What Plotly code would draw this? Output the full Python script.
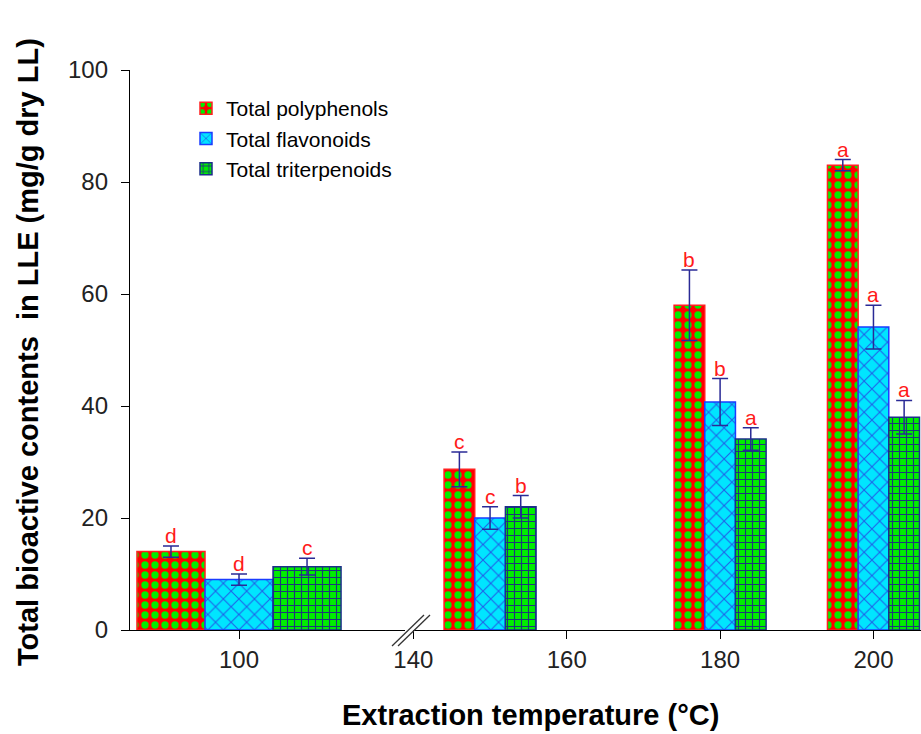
import plotly.graph_objects as go

# ---- data ----
temps = [100, 150, 180, 200]
polyphenols = [14.0, 28.7, 58.0, 83.0]
polyphenols_err = [1.0, 3.1, 6.3, 1.0]
flavonoids = [9.0, 20.0, 40.7, 54.1]
flavonoids_err = [1.0, 2.0, 4.2, 3.9]
triterpenoids = [11.3, 22.0, 34.1, 38.0]
triterpenoids_err = [1.5, 2.0, 2.0, 3.0]
poly_letters = ["d", "c", "b", "a"]
flav_letters = ["d", "c", "b", "a"]
trit_letters = ["c", "b", "a", "a"]
x_ticks_left = [100]
x_ticks_right = [140, 160, 180, 200]
y_ticks = [0, 20, 40, 60, 80, 100]

FONT = "Arial, Liberation Sans, sans-serif"
ERR = "#2a2a96"

series = [
    dict(name="Total polyphenols", y=polyphenols, err=polyphenols_err, letters=poly_letters,
         offset=-6, line="#ff2020",
         pattern=dict(shape=".", bgcolor="#ff0000", fgcolor="#00ee00", size=10, solidity=0.42)),
    dict(name="Total flavonoids", y=flavonoids, err=flavonoids_err, letters=flav_letters,
         offset=-2, line="#1a3cff",
         pattern=dict(shape="x", bgcolor="#00e5ff", fgcolor="#1f5fe8", size=11, solidity=0.18)),
    dict(name="Total triterpenoids", y=triterpenoids, err=triterpenoids_err, letters=trit_letters,
         offset=2, line="#1c2f8a",
         pattern=dict(shape="+", bgcolor="#00ee00", fgcolor="#1c3a7a", size=7, solidity=0.3)),
]

fig = go.Figure()
annotations = []
for s in series:
    for axis, idx in (("x", [0]), ("x2", [1, 2, 3])):
        xs = [temps[i] for i in idx]
        ys = [s["y"][i] for i in idx]
        es = [s["err"][i] for i in idx]
        fig.add_trace(go.Bar(
            x=xs, y=ys, xaxis=axis, yaxis="y",
            width=4, offset=s["offset"],
            name=s["name"], legendgroup=s["name"], showlegend=(axis == "x"),
            marker=dict(color=s["pattern"]["bgcolor"], line=dict(color=s["line"], width=1.5),
                        pattern=dict(fillmode="replace", **s["pattern"])),
            error_y=dict(type="data", array=es, visible=True, color=ERR, thickness=1.5, width=8),
        ))
        for xv, yv, ev, i in zip(xs, ys, es, idx):
            annotations.append(dict(
                x=xv + s["offset"] + 2, y=yv + ev, xref=axis, yref="y",
                text=s["letters"][i], showarrow=False, yanchor="bottom", yshift=-3,
                font=dict(family=FONT, size=21, color="#ff1a1a")))

W, H = 921, 734
L, R, T, B = 130, 0, 70, 104
pw, ph = W - L - R, H - T - B

def px(xp):
    return (xp - L) / pw

def py(yp):
    return (H - B - yp) / ph

annotations.append(dict(text="<b>Extraction temperature (°C)</b>", xref="paper", yref="paper",
                        x=px(530), y=py(715), showarrow=False, xanchor="center", yanchor="middle",
                        font=dict(family=FONT, size=29, color="black")))
annotations.append(dict(text="<b>Total bioactive contents  in LLE (mg/g dry LL)</b>", xref="paper",
                        yref="paper", x=px(28), y=py(352), showarrow=False, textangle=-90,
                        xanchor="center", yanchor="middle",
                        font=dict(family=FONT, size=29, color="black")))

# axis break marks
shapes = []
for dx in (0, 6):
    shapes.append(dict(type="line", xref="paper", yref="paper",
                       x0=px(392 + dx), y0=py(646), x1=px(424 + dx), y1=py(615),
                       line=dict(color="#333333", width=1.3)))

axis_common = dict(showline=True, linecolor="black", linewidth=1.3, ticks="outside",
                   ticklen=8, tickcolor="black", showgrid=False, zeroline=False,
                   tickfont=dict(family=FONT, size=24, color="#222222"))

fig.update_layout(
    width=W, height=H, margin=dict(l=L, r=R, t=T, b=B),
    paper_bgcolor="white", plot_bgcolor="white",
    barmode="overlay",
    xaxis=dict(domain=[0, px(405)], range=[93.59, 109.76], tickvals=x_ticks_left,
               anchor="y", **axis_common),
    xaxis2=dict(domain=[px(413), 1], range=[139.95, 206.2], tickvals=x_ticks_right,
                anchor="y", **axis_common),
    yaxis=dict(range=[0, 100], tickvals=y_ticks, anchor="x", ticklabelstandoff=8, **axis_common),
    legend=dict(x=px(186), y=py(88), xanchor="left", yanchor="top",
                font=dict(family=FONT, size=21, color="black"),
                bgcolor="rgba(0,0,0,0)", tracegroupgap=0),
    showlegend=True,
    annotations=annotations,
    shapes=shapes,
)

fig.write_html("out.html", post_script="document.body.style.margin='0';",
               config={"displayModeBar": False})
